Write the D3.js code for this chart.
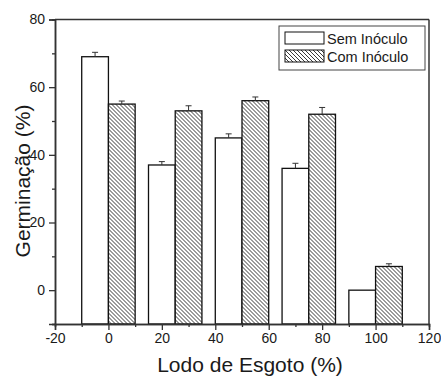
<!DOCTYPE html>
<html>
<head>
<meta charset="utf-8">
<script src="https://cdn.jsdelivr.net/npm/d3@7"></script>
<style>
  body { margin: 0; background: #fff; }
  text { font-family: "Liberation Sans", Arial, sans-serif; fill: #1a1a1a; }
</style>
</head>
<body>
<svg id="chart" width="441" height="376"></svg>
<script>

// doses of sewage sludge (%)
var doses = [0, 20, 40, 60, 80, 100];
var semValues = [69, 37, 45, 36, 0];
var semErrors = [1.3, 1.0, 1.2, 1.5, 0];
var comValues = [55, 53, 56, 52, 7];
var comErrors = [0.9, 1.5, 1.1, 2.0, 0.8];
// left edge of each bar, on the x scale
var semStarts = [-10, 15, 40, 65, 90];
var comStarts = [0, 25, 50, 75, 100];
var barWidth = 10;
var xTicks = [-20, 0, 20, 40, 60, 80, 100, 120];
var yTicks = [0, 20, 40, 60, 80];
var seriesNames = ["Sem Inóculo", "Com Inóculo"];

var margin = {top: 19.5, right: 12, bottom: 52, left: 55};
var width = 429 - margin.left,
    height = 324 - margin.top;

var svg = d3.select("#chart");

var defs = svg.append("defs");
var pat = defs.append("pattern")
    .attr("id", "hatch")
    .attr("patternUnits", "userSpaceOnUse")
    .attr("width", 4)
    .attr("height", 4);
pat.append("rect").attr("width", 4).attr("height", 4).attr("fill", "#fff");
pat.append("path")
    .attr("d", "M-1,-1 L5,5 M-1,3 L1,5 M3,-1 L5,1")
    .attr("stroke", "#222")
    .attr("stroke-width", 0.9);

var g = svg.append("g")
    .attr("transform", "translate(" + margin.left + "," + margin.top + ")");

var x = d3.scaleLinear().domain([-20, 120]).range([0, width]);
var y = d3.scaleLinear().domain([-10, 80]).range([height, 0]);

// bars
function drawBars(starts, values, errors, fill){
    var grp = g.append("g");
    grp.selectAll("rect")
        .data(values)
        .enter().append("rect")
        .attr("x", function(d, i){ return x(starts[i]); })
        .attr("y", function(d){ return y(d); })
        .attr("width", x(barWidth) - x(0))
        .attr("height", function(d){ return y(-10) - y(d); })
        .attr("fill", fill)
        .attr("stroke", "#111")
        .attr("stroke-width", 1.3);

    var eb = grp.selectAll("g.err")
        .data(values)
        .enter().append("g")
        .attr("class", "err")
        .filter(function(d, i){ return errors[i] > 0; });
    eb.append("line")
        .attr("x1", function(d, i){ return x(starts[i] + barWidth / 2); })
        .attr("x2", function(d, i){ return x(starts[i] + barWidth / 2); })
        .attr("y1", function(d){ return y(d); })
        .attr("y2", function(d, i){ return y(d + errors[i]); })
        .attr("stroke", "#333").attr("stroke-width", 1);
    eb.append("line")
        .attr("x1", function(d, i){ return x(starts[i] + barWidth / 2) - 3; })
        .attr("x2", function(d, i){ return x(starts[i] + barWidth / 2) + 3; })
        .attr("y1", function(d, i){ return y(d + errors[i]); })
        .attr("y2", function(d, i){ return y(d + errors[i]); })
        .attr("stroke", "#333").attr("stroke-width", 1);
}

drawBars(semStarts, semValues, semErrors, "#fff");
drawBars(comStarts, comValues, comErrors, "url(#hatch)");

// axes
var plain = function(d){ return String(d); };
var xAxis = g.append("g")
    .attr("transform", "translate(0," + height + ")")
    .call(d3.axisBottom(x).tickValues(xTicks).tickSize(6).tickPadding(3).tickFormat(plain));
g.append("g")
    .attr("transform", "translate(0," + height + ")")
    .call(d3.axisBottom(x).tickValues(d3.range(-10, 120, 20)).tickSize(3).tickFormat(""));

var yAxis = g.append("g")
    .call(d3.axisLeft(y).tickValues(yTicks).tickSize(6).tickPadding(4).tickFormat(plain));
g.append("g")
    .call(d3.axisLeft(y).tickValues([-10, 10, 30, 50, 70]).tickSize(3).tickFormat(""));

g.selectAll(".domain").attr("stroke", "#333").attr("stroke-width", 1.5);
g.selectAll(".tick line").attr("stroke", "#333").attr("stroke-width", 1.3);
g.selectAll(".tick text").style("font-size", "14px").style("font-family", "Liberation Sans, Arial, sans-serif").attr("fill", "#1a1a1a");

// frame top / right
g.append("line").attr("x1", 0).attr("x2", width).attr("y1", 0).attr("y2", 0)
    .attr("stroke", "#333").attr("stroke-width", 1.5);
g.append("line").attr("x1", width).attr("x2", width).attr("y1", 0).attr("y2", height)
    .attr("stroke", "#333").attr("stroke-width", 1.5);

// titles
svg.append("text")
    .attr("x", 250).attr("y", 372)
    .attr("text-anchor", "middle")
    .style("font-size", "21px")
    .text("Lodo de Esgoto (%)");

svg.append("text")
    .attr("transform", "translate(30,181) rotate(-90)")
    .attr("text-anchor", "middle")
    .style("font-size", "21px")
    .text("Germinação (%)");

// legend
var legend = svg.append("g").attr("transform", "translate(279,26)");
legend.append("rect")
    .attr("width", 146).attr("height", 44)
    .attr("fill", "#fff").attr("stroke", "#444").attr("stroke-width", 1);
var items = legend.selectAll("g.item")
    .data(seriesNames)
    .enter().append("g")
    .attr("transform", function(d, i){ return "translate(6," + (6 + i * 18) + ")"; });
items.append("rect")
    .attr("width", 39).attr("height", 12)
    .attr("fill", function(d, i){ return i == 0 ? "#fff" : "url(#hatch)"; })
    .attr("stroke", "#111").attr("stroke-width", 1);
items.append("text")
    .attr("x", 42).attr("y", 11.5)
    .style("font-size", "14.5px")
    .text(function(d){ return d; });

</script>
</body>
</html>
